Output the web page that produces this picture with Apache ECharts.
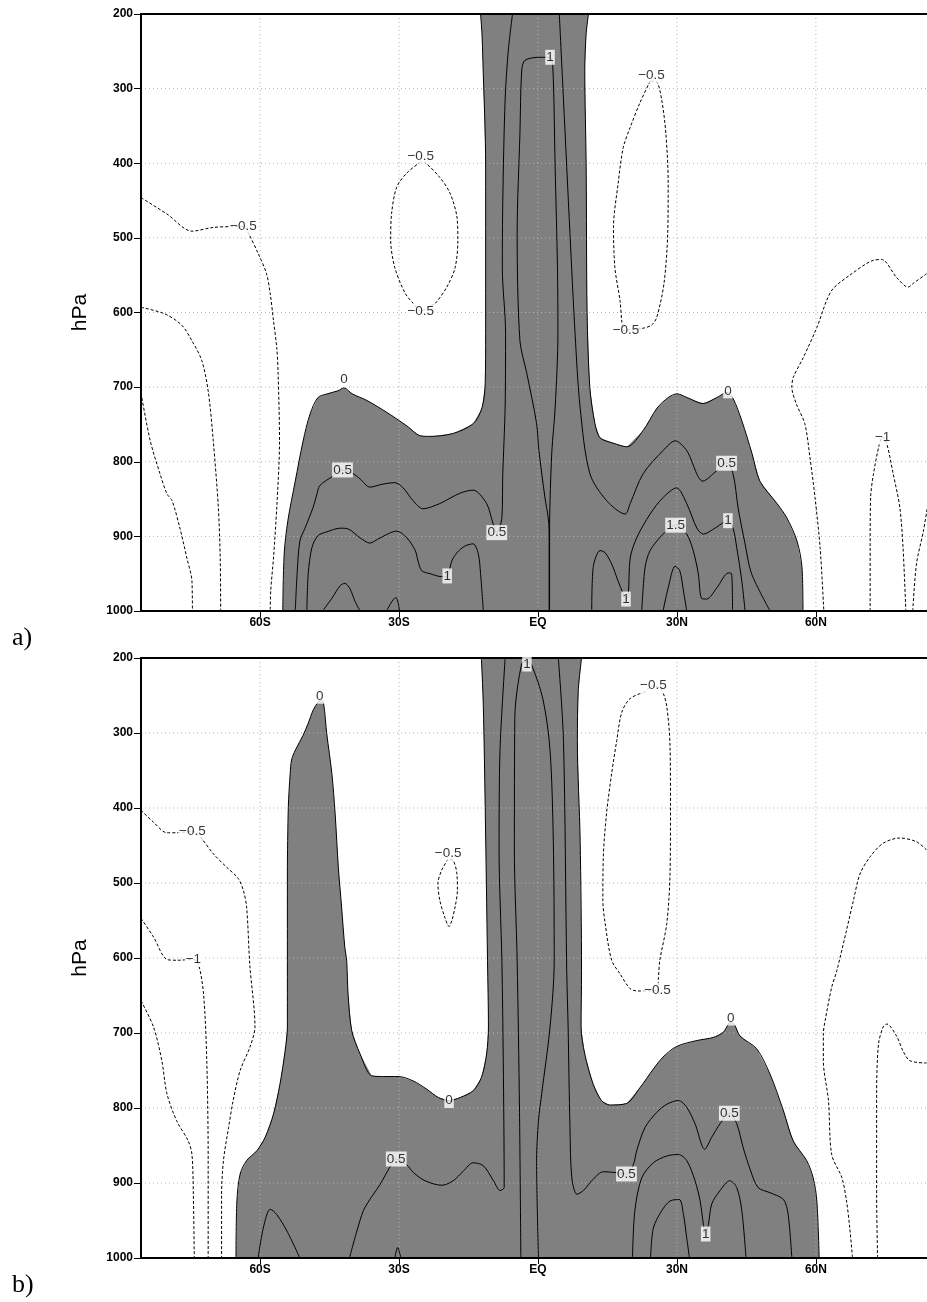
<!DOCTYPE html>
<html><head><meta charset="utf-8">
<script src="https://cdn.jsdelivr.net/npm/echarts@6/dist/echarts.min.js"></script>
<style>html,body{margin:0;padding:0;background:#fff}#c{width:927px;height:1302px}</style>
</head><body><div id="c"></div>
<script>
// ---- axes ----
const LAT_MIN = -85.7, LAT_MAX = 85.7;
const latTicks = [-60, -30, 0, 30, 60];
const latLabels = ['60S', '30S', 'EQ', '30N', '60N'];
const pGrid = [300, 400, 500, 600, 700, 800, 900];

// ---- panel a: [lat, hPa] ----
const aZeroWest = [[-55.1,1000],[-54.8,924],[-54.0,879],[-52.4,826],[-50.7,772],[-49.2,736],[-47.5,714],[-45.5,709],[-43.2,705],[-41.9,701],[-40.1,709],[-36.9,718],[-32.6,734],[-28.3,752],[-25.5,765],[-23.3,766],[-18.3,762],[-14.0,749],[-12.1,728],[-11.4,695],[-11.3,628],[-11.3,405],[-11.9,262],[-12.1,226],[-12.4,200]];
const aZeroEast = [[10.9,200],[10.4,226],[10.1,275],[10.4,405],[10.6,600],[11.2,701],[12.3,749],[13.4,768],[16.2,775],[19.2,780],[22.7,758],[25.7,728],[28.1,714],[30.0,709],[32.2,714],[35.6,722],[38.6,714],[40.8,707],[42.1,715],[44.0,745],[46.2,789],[47.9,826],[51.6,856],[53.7,875],[55.9,906],[57.0,942],[57.2,1000]];
const aHalfWest = [[-52.4,1000],[-52.0,950],[-51.4,906],[-50.3,889],[-48.6,862],[-47.7,843],[-47.1,832],[-44.2,819],[-42.2,811],[-39.9,816],[-38.4,823],[-36.3,834],[-33.5,830],[-30.9,828],[-29.1,835],[-27.0,852],[-24.8,863],[-21.2,856],[-16.8,842],[-14.0,838],[-11.1,856],[-9.7,883],[-8.9,895],[-7.8,875],[-7.6,816],[-7.1,728],[-7.0,628],[-7.7,540],[-7.6,450],[-7.1,315],[-6.4,248],[-5.5,200]];
const aHalfEast = [[4.6,200],[5.5,315],[6.9,494],[8.0,628],[9.1,728],[11.2,816],[14.8,852],[18.8,870],[19.9,856],[22.7,816],[27.0,785],[29.6,772],[32.1,785],[35.6,826],[38.6,812],[40.7,802],[42.1,816],[43.2,862],[44.7,910],[46.1,950],[50.1,1000]];
const aOne = [[2.4,1000],[2.4,893],[2.2,875],[1.5,848],[0.2,785],[-0.3,749],[-2.4,682],[-3.9,638],[-4.5,494],[-3.9,360],[-3.5,275],[-2.8,262],[0.4,258],[2.6,258],[3.2,271],[3.7,405],[4.2,540],[4.3,628],[3.7,728],[3.0,785],[2.6,852],[2.5,893],[2.5,1000]];
const aOneSouth = [[-49.9,1000],[-49.6,950],[-48.8,915],[-47.5,899],[-45.6,894],[-42.7,889],[-41.0,890],[-38.4,902],[-36.3,909],[-34.1,902],[-30.5,893],[-28.3,902],[-26.5,919],[-25.9,933],[-25.1,946],[-23.3,950],[-20.8,954],[-19.6,953],[-18.6,933],[-17.5,922],[-15.8,913],[-14.0,910],[-12.9,923],[-12.4,950],[-11.8,1000]];
const aOneHalfSouth = [[-46.5,1000],[-44.5,983],[-42.7,966],[-41.7,963],[-40.6,970],[-39.5,987],[-38.4,1000]];
const aSmallSouth = [[-32.7,1000],[-31.3,985],[-30.6,982],[-29.9,1000]];
const aOneNorth = [[11.6,1000],[11.9,942],[13.4,919],[14.5,922],[15.9,937],[17.3,960],[18.4,977],[19.0,984],[19.5,977],[19.9,929],[21.3,902],[24.2,870],[27.0,848],[29.9,835],[32.1,856],[34.3,889],[35.7,897],[38.2,889],[41.0,879],[42.1,889],[42.9,915],[44.0,960],[44.7,1000]];
const aOneHalfNorth = [[22.4,1000],[23.1,942],[24.2,919],[27.0,897],[29.7,885],[32.1,897],[33.5,919],[34.6,950],[35.3,983],[36.4,984],[38.6,969],[41.1,949],[41.8,950],[42.0,1000]];
const aTwoNorth = [[27.0,1000],[28.1,969],[29.6,940],[30.6,946],[31.4,973],[32.1,1000]];
const aNegOvalSouth = [[-25.3,398],[-28.3,413],[-30.5,432],[-31.6,467],[-31.8,503],[-30.9,540],[-28.7,574],[-26.9,588],[-25.3,598],[-23.3,591],[-22.2,588],[-19.7,566],[-17.9,540],[-17.3,503],[-17.5,472],[-19.0,440],[-21.2,419],[-24.4,399],[-25.3,398]];
const aNegPolar1 = [[-85.7,446],[-80.1,468],[-74.7,491],[-70.1,486],[-65.8,485],[-63.6,485],[-62.5,494],[-60.4,521],[-58.6,548],[-57.8,575],[-57.1,611],[-56.4,647],[-56.1,682],[-55.8,772],[-56.4,862],[-57.1,929],[-57.7,973],[-57.8,1000]];
const aNegPolar2 = [[-85.7,593],[-80.5,602],[-76.9,617],[-74.7,638],[-72.6,664],[-71.2,705],[-70.1,772],[-69.0,862],[-68.6,929],[-68.5,1000]];
const aNegPolar3 = [[-85.7,708],[-83.7,772],[-81.6,816],[-80.1,843],[-79.0,852],[-77.3,889],[-75.8,929],[-74.7,960],[-74.6,1000]];
const aNegOvalNorth = [[24.2,290],[22.0,319],[19.9,352],[18.4,379],[17.3,427],[16.3,486],[16.6,540],[17.7,584],[18.1,613],[18.4,624],[22.7,621],[24.5,617],[25.6,607],[27.2,561],[28.0,494],[28.1,427],[27.6,360],[26.7,315],[25.6,291],[24.2,290]];
const aNegArctic1 = [[83.9,548],[81.0,561],[79.9,566],[77.4,553],[74.2,529],[72.4,530],[67.3,550],[63.7,568],[62.3,584],[60.2,620],[57.3,660],[55.1,687],[54.8,700],[55.8,723],[57.6,749],[58.7,794],[59.8,848],[60.9,915],[61.7,1000]];
const aNegOne = [[71.7,1000],[71.7,915],[71.8,848],[72.4,817],[73.7,776],[74.4,767],[75.3,776],[76.7,817],[78.1,861],[78.8,915],[79.4,1000]];
const aNegArctic2 = [[80.9,1000],[81.7,937],[83.2,893],[84.0,863]];
const aLabels = [[-41.9,690,'0'],[41.0,705,'0'],[-42.2,811,'0.5'],[-8.9,895,'0.5'],[-19.6,953,'1'],[2.6,258,'1'],[40.7,802,'0.5'],[29.7,885,'1.5'],[41.0,879,'1'],[19.0,984,'1'],[-25.3,390,'−0.5'],[-25.3,598,'−0.5'],[-63.6,485,'−0.5'],[24.5,282,'−0.5'],[19.0,624,'−0.5'],[74.4,767,'−1']];

// ---- panel b: [lat, hPa] ----
const bZeroWest = [[-65.2,1000],[-65.0,924],[-64.3,888],[-62.9,870],[-60.7,857],[-58.9,839],[-57.1,808],[-55.7,768],[-54.6,724],[-54.1,692],[-54.1,603],[-54.1,488],[-53.9,399],[-53.5,354],[-53.2,336],[-52.4,323],[-50.7,303],[-49.6,287],[-48.5,269],[-47.4,258],[-46.9,255],[-46.3,260],[-45.6,301],[-44.5,354],[-43.8,407],[-43.1,479],[-42.4,532],[-41.7,586],[-41.3,603],[-41.0,648],[-40.2,697],[-38.4,728],[-35.9,757],[-33.4,758],[-30.2,758],[-26.9,764],[-24.0,775],[-21.5,786],[-19.2,790],[-16.8,786],[-14.0,777],[-12.2,759],[-11.1,728],[-10.7,692],[-10.9,603],[-11.4,399],[-11.8,265],[-12.2,203],[-12.3,200]];
const bZeroEast = [[9.4,200],[8.7,243],[8.5,310],[9.1,443],[9.4,617],[9.3,692],[10.1,728],[11.9,768],[13.7,790],[15.5,796],[19.1,794],[22.0,773],[24.9,748],[27.0,732],[29.9,718],[34.3,710],[37.8,706],[40.0,699],[41.1,688],[41.6,685],[42.5,690],[43.6,704],[47.2,721],[50.1,755],[53.0,804],[55.1,844],[58.0,870],[59.4,893],[60.2,924],[60.7,1000]];
const bHalfWest = [[-40.7,1000],[-39.1,964],[-37.7,937],[-36.3,922],[-34.1,902],[-31.9,878],[-30.6,868],[-28.3,876],[-26.9,886],[-24.4,897],[-20.8,903],[-18.3,897],[-16.1,884],[-14.0,873],[-11.8,877],[-9.6,897],[-8.2,910],[-7.3,906],[-7.5,737],[-7.8,603],[-8.4,456],[-8.2,323],[-7.1,201]];
const bOne = [[-3.7,1000],[-4.0,800],[-4.5,603],[-5.1,456],[-5.0,279],[-3.5,207],[-2.4,205],[-1.4,209],[1.1,256],[2.6,323],[3.3,443],[3.5,603],[2.6,692],[0.8,781],[0.1,817],[-0.3,870],[0.1,1000]];
const bHalfEast = [[4.4,201],[5.5,310],[6.2,617],[6.5,692],[6.9,826],[7.3,893],[8.4,915],[9.8,910],[11.9,895],[14.1,885],[16.6,886],[19.1,888],[20.6,875],[21.3,857],[23.1,826],[25.6,806],[27.8,795],[30.3,790],[32.1,799],[33.9,821],[36.0,855],[37.5,839],[39.3,821],[41.3,807],[42.9,821],[44.3,853],[45.8,882],[47.5,906],[50.1,913],[53.0,922],[54.0,942],[54.8,1000]];
const bOneNorth = [[20.4,1000],[20.9,937],[22.4,893],[24.9,873],[27.8,864],[30.3,862],[32.1,870],[33.9,897],[35.0,924],[35.7,955],[36.2,968],[36.8,955],[37.5,928],[39.3,910],[41.4,897],[42.9,906],[44.0,937],[44.9,1000]];
const bOneHalfNorth = [[24.3,1000],[24.9,960],[26.7,937],[28.5,924],[30.5,922],[31.4,942],[32.1,973],[32.7,1000]];
const bOneSouth = [[-60.4,1000],[-59.3,960],[-57.8,935],[-56.4,942],[-54.2,964],[-51.4,1000]];
const bSmallSouth = [[-30.9,1000],[-30.3,986],[-29.6,1000]];
const bNegPolar1 = [[-85.7,403],[-83.0,419],[-80.1,433],[-78.0,433],[-74.6,431],[-72.6,441],[-70.1,461],[-67.2,479],[-64.7,494],[-63.6,510],[-62.9,532],[-62.2,610],[-61.1,692],[-62.2,719],[-64.3,750],[-65.8,790],[-66.8,826],[-67.9,870],[-68.3,915],[-68.3,1000]];
const bNegPolar2 = [[-85.7,547],[-83.0,572],[-80.1,602],[-78.0,603],[-74.4,602],[-73.3,608],[-72.2,648],[-71.5,737],[-71.2,870],[-71.2,1000]];
const bNegPolar3 = [[-85.7,657],[-83.0,692],[-81.2,737],[-80.1,781],[-78.0,817],[-75.5,844],[-74.7,862],[-74.4,915],[-74.2,1000]];
const bNegOvalSouth = [[-19.4,468],[-20.8,483],[-21.6,501],[-21.2,523],[-20.1,546],[-19.2,558],[-18.6,550],[-17.9,532],[-17.4,510],[-17.5,488],[-18.3,470],[-19.4,468]];
const bNegOvalNorth = [[23.1,245],[19.9,254],[18.1,272],[17.0,310],[15.9,354],[14.8,407],[14.1,465],[14.0,523],[14.5,554],[15.9,603],[17.7,621],[19.9,641],[21.6,644],[25.8,643],[26.0,626],[26.3,603],[27.8,554],[28.5,488],[28.6,399],[28.5,318],[27.8,265],[26.7,243],[24.9,237],[23.1,245]];
const bNegArctic1 = [[83.9,456],[81.7,445],[78.1,440],[74.5,447],[71.7,465],[69.5,488],[68.1,523],[66.6,563],[64.5,617],[63.4,639],[62.0,683],[61.6,701],[61.6,737],[62.7,790],[63.4,862],[65.6,893],[66.6,924],[67.3,960],[67.9,1000]];
const bNegArctic2 = [[73.3,1000],[73.1,915],[73.1,781],[73.5,715],[74.5,692],[75.3,688],[77.4,704],[78.8,724],[80.3,737],[83.9,740]];
const bLabels = [[-47.1,251,'0'],[-19.2,790,'0'],[-2.4,208,'1'],[41.6,680,'0'],[-30.6,868,'0.5'],[19.1,888,'0.5'],[41.3,807,'0.5'],[36.2,968,'1'],[-74.6,431,'−0.5'],[-74.4,602,'−1'],[-19.4,460,'−0.5'],[24.9,237,'−0.5'],[25.8,643,'−0.5']];

const panels = [
  {zeroW:aZeroWest, zeroE:aZeroEast,
   solid:[aHalfWest,aHalfEast,aOne,aOneSouth,aOneHalfSouth,aSmallSouth,aOneNorth,aOneHalfNorth,aTwoNorth],
   dashed:[aNegOvalSouth,aNegPolar1,aNegPolar2,aNegPolar3,aNegOvalNorth,aNegArctic1,aNegOne,aNegArctic2],
   labels:aLabels},
  {zeroW:bZeroWest, zeroE:bZeroEast,
   solid:[bHalfWest,bOne,bHalfEast,bOneNorth,bOneHalfNorth,bOneSouth,bSmallSouth],
   dashed:[bNegPolar1,bNegPolar2,bNegPolar3,bNegOvalSouth,bNegOvalNorth,bNegArctic1,bNegArctic2],
   labels:bLabels}
];

const FONT = '"Liberation Sans", Arial, Helvetica, sans-serif';
const grids = [
  {left:141, top:14, width:794, height:597, outerBoundsMode:'none', containLabel:false},
  {left:141, top:658, width:794, height:600, outerBoundsMode:'none', containLabel:false}
];
const xAxes = [], yAxes = [], series = [];

grids.forEach((g, k) => {
  xAxes.push({gridIndex:k, type:'value', min:LAT_MIN, max:LAT_MAX, position:'bottom', z:5,
    axisLine:{show:true, onZero:false, lineStyle:{color:'#000', width:2}},
    axisTick:{show:true, customValues:latTicks, length:6, lineStyle:{color:'#000', width:1}},
    axisLabel:{show:true, customValues:latTicks, formatter:v => { const i = latTicks.indexOf(v); return i >= 0 ? latLabels[i] : ''; },
      color:'#000', fontSize:12, fontWeight:'bold', fontFamily:FONT, margin:6},
    splitLine:{show:false}});
  xAxes.push({gridIndex:k, type:'value', min:LAT_MIN, max:LAT_MAX, position:'top', z:5,
    axisLine:{show:true, onZero:false, lineStyle:{color:'#000', width:2}},
    axisTick:{show:false}, axisLabel:{show:false}, splitLine:{show:false}});
  yAxes.push({gridIndex:k, type:'value', min:200, max:1000, interval:100, inverse:true, position:'left', z:5,
    name:'hPa', nameLocation:'middle', nameGap:50, nameTextStyle:{fontSize:21, fontFamily:FONT, color:'#000'},
    axisLine:{show:true, onZero:false, lineStyle:{color:'#000', width:2}},
    axisTick:{show:true, length:7, lineStyle:{color:'#000', width:1}},
    axisLabel:{color:'#000', fontSize:12, fontWeight:'bold', fontFamily:FONT, margin:8, formatter:v => String(v)},
    splitLine:{show:false}});

  const P = panels[k], xi = 2 * k, yi = k;
  const poly = P.zeroW.concat(P.zeroE);
  series.push({type:'custom', xAxisIndex:xi, yAxisIndex:yi, data:[0], z:2, silent:true, clip:true,
    renderItem:(params, api) => ({type:'polygon', shape:{points: poly.map(pt => api.coord(pt))}, style:{fill:'#808080'}})});
  latTicks.forEach(t => series.push({type:'line', xAxisIndex:xi, yAxisIndex:yi, data:[[t,200],[t,1000]], symbol:'none', silent:true, z:3,
    lineStyle:{color:'#b4b4b4', width:1, type:[1,3]}}));
  pGrid.forEach(p => series.push({type:'line', xAxisIndex:xi, yAxisIndex:yi, data:[[LAT_MIN,p],[LAT_MAX,p]], symbol:'none', silent:true, z:3,
    lineStyle:{color:'#b4b4b4', width:1, type:[1,3]}}));
  [P.zeroW, P.zeroE].concat(P.solid).forEach(d => series.push({type:'line', xAxisIndex:xi, yAxisIndex:yi, data:d, symbol:'none', smooth:0.3, silent:true, z:4,
    lineStyle:{color:'#000', width:1, type:'solid'}}));
  P.dashed.forEach(d => series.push({type:'line', xAxisIndex:xi, yAxisIndex:yi, data:d, symbol:'none', smooth:0.3, silent:true, z:4,
    lineStyle:{color:'#000', width:1, type:[3,2]}}));
  series.push({type:'scatter', xAxisIndex:xi, yAxisIndex:yi, data:P.labels, symbolSize:1, silent:true, z:6,
    itemStyle:{color:'rgba(0,0,0,0)'},
    label:{show:true, position:'inside', formatter:p => p.data[2], color:'#000', fontSize:13.5, fontFamily:FONT,
      backgroundColor:'#fff', padding:[1,1,0,1]}});
});

const chart = echarts.init(document.getElementById('c'), null, {renderer:'canvas', width:927, height:1302});
chart.setOption({
  animation:false,
  backgroundColor:'#fff',
  grid:grids,
  xAxis:xAxes,
  yAxis:yAxes,
  series:series,
  graphic:[
    {type:'text', x:12, y:638, style:{text:'a)', font:'26px "Liberation Serif", "Times New Roman", serif', fill:'#000', verticalAlign:'middle'}},
    {type:'text', x:12, y:1285, style:{text:'b)', font:'26px "Liberation Serif", "Times New Roman", serif', fill:'#000', verticalAlign:'middle'}}
  ]
});
</script></body></html>
